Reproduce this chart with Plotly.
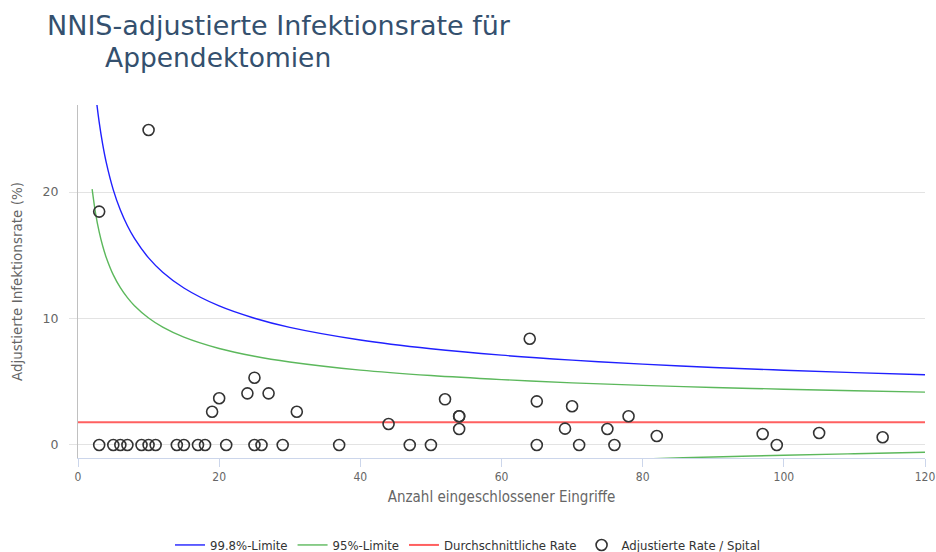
import plotly.graph_objects as go

# Limit curves
limit_n = [2, 2.5, 3, 3.5, 4, 5, 6, 7, 8, 10, 12, 15, 20, 25, 30, 40, 50, 60, 70, 80, 90, 100, 110, 120]
limit_998 = [30.85, 27.79, 25.52, 23.76, 22.34, 20.17, 18.57, 17.33, 16.33, 14.79, 13.66, 12.41, 10.99,
             10.02, 9.30, 8.30, 7.61, 7.10, 6.71, 6.39, 6.13, 5.91, 5.72, 5.55]
limit_95 = [20.23, 18.28, 16.85, 15.73, 14.83, 13.45, 12.44, 11.65, 11.01, 10.04, 9.32, 8.53, 7.63,
            7.01, 6.56, 5.92, 5.49, 5.17, 4.91, 4.71, 4.55, 4.41, 4.29, 4.18]
lower_n = [60, 70, 80, 90, 100, 110, 120]
lower_95 = [-1.57, -1.31, -1.11, -0.95, -0.81, -0.69, -0.58]

avg_rate = 1.8
avg_n = [0, 120]

# Hospitals: number of procedures and adjusted rate
hosp_n = [3, 3, 5, 6, 7, 9, 10, 10, 11, 14, 15, 17, 18, 19, 20, 21, 24, 25, 25, 26, 27, 29, 31,
          37, 44, 47, 50, 52, 54, 54, 54, 64, 65, 65, 69, 70, 71, 75, 76, 78, 82, 97, 99, 105, 114]
hosp_rate = [0, 18.45, 0, 0, 0, 0, 0, 24.9, 0, 0, 0, 0, 0, 2.63, 3.69, 0, 4.08, 5.32, 0, 0, 4.08, 0, 2.63,
             0, 1.66, 0, 0, 3.61, 2.27, 2.27, 1.26, 8.4, 3.45, 0, 1.29, 3.06, 0, 1.26, 0, 2.27, 0.71, 0.87, 0, 0.95, 0.61]

title_line1 = "NNIS-adjustierte Infektionsrate für"
title_line2 = "Appendektomien"
x_title = "Anzahl eingeschlossener Eingriffe"
y_title = "Adjustierte Infektionsrate (%)"

COND = "DejaVu Sans Condensed, DejaVu Sans"

fig = go.Figure()
fig.add_trace(go.Scatter(x=limit_n, y=limit_998, mode="lines", name="99.8%-Limite",
                         line=dict(color="#2020ff", width=1.4, shape="spline"), hoverinfo="skip"))
fig.add_trace(go.Scatter(x=limit_n, y=limit_95, mode="lines", name="95%-Limite",
                         line=dict(color="#5cb85c", width=1.4, shape="spline"), hoverinfo="skip"))
fig.add_trace(go.Scatter(x=lower_n, y=lower_95, mode="lines", name="95%-Limite", showlegend=False,
                         line=dict(color="#5cb85c", width=1.4, shape="spline"), hoverinfo="skip"))
fig.add_trace(go.Scatter(x=avg_n, y=[avg_rate, avg_rate], mode="lines", name="Durchschnittliche Rate",
                         line=dict(color="#ff6060", width=2)))
fig.add_trace(go.Scatter(x=hosp_n, y=hosp_rate, mode="markers", name="Adjustierte Rate / Spital",
                         marker=dict(symbol="circle-open", size=11, color="#333333", line=dict(width=1.6))))

PLOT_W = 936 - 78 - 11

fig.update_layout(
    width=936, height=552,
    margin=dict(l=78, r=11, t=105, b=94),
    paper_bgcolor="white", plot_bgcolor="white",
    font=dict(family="DejaVu Sans, Verdana, sans-serif", color="#666666"),
    showlegend=True,
    legend=dict(orientation="h", xref="container", yref="container", x=0.5, y=7 / 552,
                xanchor="center", yanchor="middle",
                font=dict(family=COND, size=13, color="#333333"),
                itemwidth=30, tracegroupgap=0),
    xaxis=dict(range=[0, 120], tickvals=[0, 20, 40, 60, 80, 100, 120], showgrid=False,
               zeroline=False, showline=True, linecolor="#ccd6eb", linewidth=1, automargin=False,
               ticks="outside", ticklen=8, tickcolor="#ccd6eb", ticklabeloverflow="allow",
               tickfont=dict(family=COND, size=12, color="#666666"),
               title=dict(text=x_title, standoff=8,
                          font=dict(family=COND, size=15, color="#666666"))),
    yaxis=dict(range=[-1.03, 26.88], tickvals=[0, 10, 20], showgrid=True, gridcolor="#e3e3e3",
               zeroline=False, showline=True, linecolor="#c0c0c0", linewidth=1, automargin=False,
               ticks="outside", ticklen=8, tickcolor="#e3e3e3", ticklabelstandoff=8,
               tickfont=dict(size=12.5, color="#666666"),
               title=dict(text=y_title, standoff=16, font=dict(size=13.5, color="#666666"))),
)

fig.add_annotation(text=title_line1, xref="paper", yref="paper", x=(45 - 78) / PLOT_W, y=(458 - 25) / 353,
                   xanchor="left", yanchor="middle", showarrow=False,
                   font=dict(family="DejaVu Sans, Verdana", size=27, color="#34506e"))
fig.add_annotation(text=title_line2, xref="paper", yref="paper", x=(103 - 78) / PLOT_W, y=(458 - 58) / 353,
                   xanchor="left", yanchor="middle", showarrow=False,
                   font=dict(family="DejaVu Sans, Verdana", size=26.5, color="#34506e"))

fig.write_html("out.html", config={"displayModeBar": False},
               post_script="document.body.style.margin='0';")
